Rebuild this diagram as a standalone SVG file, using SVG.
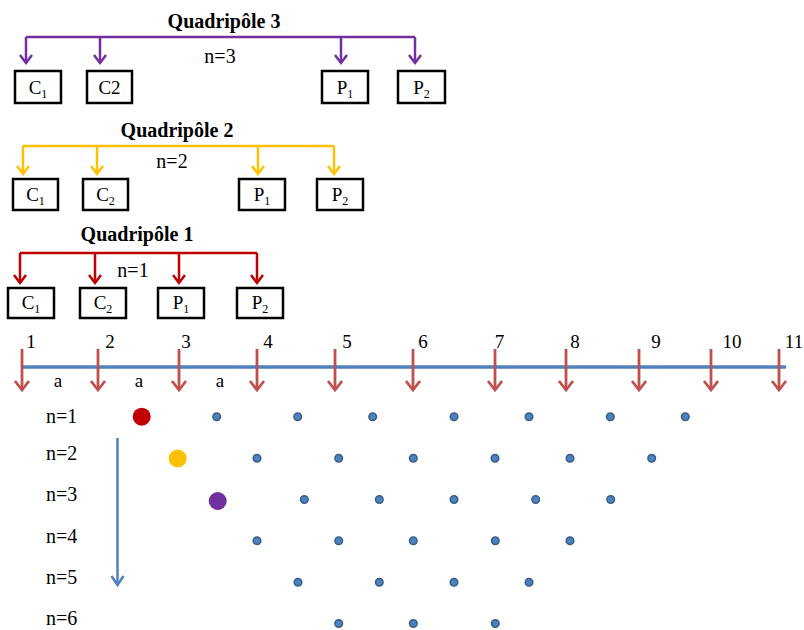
<svg xmlns="http://www.w3.org/2000/svg" width="804" height="630" viewBox="0 0 804 630">
<style>
text{font-family:"Liberation Serif","Times New Roman",serif;fill:#000}
.title{font-size:20px;font-weight:bold;text-anchor:middle}
.lbl{font-size:20px;text-anchor:middle}
.num{font-size:19px;text-anchor:middle}
.row{font-size:20px}
.box rect{fill:#fff;stroke:#000;stroke-width:2.5}
.box text{font-size:19px;text-anchor:middle}
.sub{font-size:12px}
.pl{stroke:#7030a0;stroke-width:2.5;fill:none}
.ye{stroke:#ffc000;stroke-width:2.5;fill:none}
.rd{stroke:#c00000;stroke-width:2.5;fill:none}
.ax{stroke:#c0504d;stroke-width:2.8;fill:none}
.bl{stroke:#4f81bd;fill:none}
.dot{fill:#4f81bd;stroke:#385d8a;stroke-width:1.5}
</style>
<defs>
<marker id="mP" markerUnits="userSpaceOnUse" viewBox="-10 -10 20 20" markerWidth="20" markerHeight="20" refX="0" refY="0" orient="auto" overflow="visible"><path d="M-8,-6 L0,0 L-8,6" stroke="#7030a0" stroke-width="2.5" fill="none"/></marker>
<marker id="mY" markerUnits="userSpaceOnUse" viewBox="-10 -10 20 20" markerWidth="20" markerHeight="20" refX="0" refY="0" orient="auto" overflow="visible"><path d="M-8,-6 L0,0 L-8,6" stroke="#ffc000" stroke-width="2.5" fill="none"/></marker>
<marker id="mR" markerUnits="userSpaceOnUse" viewBox="-10 -10 20 20" markerWidth="20" markerHeight="20" refX="0" refY="0" orient="auto" overflow="visible"><path d="M-8,-6 L0,0 L-8,6" stroke="#c00000" stroke-width="2.5" fill="none"/></marker>
<marker id="mA" markerUnits="userSpaceOnUse" viewBox="-10 -10 20 20" markerWidth="20" markerHeight="20" refX="0" refY="0" orient="auto" overflow="visible"><path d="M-9,-7 L0,0 L-9,7" stroke="#c0504d" stroke-width="2.8" fill="none"/></marker>
<marker id="mB" markerUnits="userSpaceOnUse" viewBox="-10 -10 20 20" markerWidth="20" markerHeight="20" refX="0" refY="0" orient="auto" overflow="visible"><path d="M-9,-6 L0,0 L-9,6" stroke="#4f81bd" stroke-width="2.5" fill="none"/></marker>
</defs>

<!-- titles and labels -->
<text class="title" x="224" y="28">Quadripôle 3</text>
<text class="lbl" x="220" y="63">n=3</text>
<text class="title" x="177" y="137">Quadripôle 2</text>
<text class="lbl" x="172" y="168">n=2</text>
<text class="title" x="137" y="241">Quadripôle 1</text>
<text class="lbl" x="133" y="277">n=1</text>

<g id="connectors">
  <path class="pl" d="M26,37 H415"/>
  <path class="pl" d="M26,37 V63" marker-end="url(#mP)"/>
  <path class="pl" d="M100,37 V63" marker-end="url(#mP)"/>
  <path class="pl" d="M341,37 V63" marker-end="url(#mP)"/>
  <path class="pl" d="M415,37 V63" marker-end="url(#mP)"/>

  <path class="ye" d="M23,146 H334"/>
  <path class="ye" d="M23,146 V174" marker-end="url(#mY)"/>
  <path class="ye" d="M97,146 V174" marker-end="url(#mY)"/>
  <path class="ye" d="M258,146 V174" marker-end="url(#mY)"/>
  <path class="ye" d="M334,146 V174" marker-end="url(#mY)"/>

  <path class="rd" d="M20,253 H257"/>
  <path class="rd" d="M20,253 V283" marker-end="url(#mR)"/>
  <path class="rd" d="M95,253 V283" marker-end="url(#mR)"/>
  <path class="rd" d="M179,253 V283" marker-end="url(#mR)"/>
  <path class="rd" d="M257,253 V283" marker-end="url(#mR)"/>

  <path class="bl" stroke-width="3.5" d="M22,367 H786"/>
  <path class="ax" d="M22,349 V390" marker-end="url(#mA)"/>
  <path class="ax" d="M98,349 V390" marker-end="url(#mA)"/>
  <path class="ax" d="M179,349 V390" marker-end="url(#mA)"/>
  <path class="ax" d="M257,349 V390" marker-end="url(#mA)"/>
  <path class="ax" d="M335,349 V390" marker-end="url(#mA)"/>
  <path class="ax" d="M413,349 V390" marker-end="url(#mA)"/>
  <path class="ax" d="M495,349 V390" marker-end="url(#mA)"/>
  <path class="ax" d="M566,349 V390" marker-end="url(#mA)"/>
  <path class="ax" d="M639,349 V390" marker-end="url(#mA)"/>
  <path class="ax" d="M711,349 V390" marker-end="url(#mA)"/>
  <path class="ax" d="M779,349 V390" marker-end="url(#mA)"/>

  <path class="bl" stroke-width="2.5" d="M117.5,438 V585" marker-end="url(#mB)"/>
</g>

<!-- Quadripole 3 boxes -->
<g id="q3-c1" class="box"><rect x="15" y="71" width="46" height="32"/><text x="38" y="94">C<tspan class="sub" dy="4">1</tspan></text></g>
<g id="q3-c2" class="box"><rect x="87" y="71" width="45" height="32"/><text x="109.5" y="94">C2</text></g>
<g id="q3-p1" class="box"><rect x="322" y="71" width="46" height="32"/><text x="345" y="94">P<tspan class="sub" dy="4">1</tspan></text></g>
<g id="q3-p2" class="box"><rect x="398" y="71" width="47" height="32"/><text x="421.5" y="94">P<tspan class="sub" dy="4">2</tspan></text></g>

<!-- Quadripole 2 boxes -->
<g id="q2-c1" class="box"><rect x="13" y="179" width="45" height="31"/><text x="35.5" y="201">C<tspan class="sub" dy="4">1</tspan></text></g>
<g id="q2-c2" class="box"><rect x="83" y="179" width="45" height="31"/><text x="105.5" y="201">C<tspan class="sub" dy="4">2</tspan></text></g>
<g id="q2-p1" class="box"><rect x="239" y="179" width="46" height="31"/><text x="262" y="201">P<tspan class="sub" dy="4">1</tspan></text></g>
<g id="q2-p2" class="box"><rect x="317" y="179" width="46" height="31"/><text x="340" y="201">P<tspan class="sub" dy="4">2</tspan></text></g>

<!-- Quadripole 1 boxes -->
<g id="q1-c1" class="box"><rect x="8" y="288" width="46" height="30"/><text x="31" y="309">C<tspan class="sub" dy="4">1</tspan></text></g>
<g id="q1-c2" class="box"><rect x="80" y="288" width="46" height="30"/><text x="103" y="309">C<tspan class="sub" dy="4">2</tspan></text></g>
<g id="q1-p1" class="box"><rect x="158" y="288" width="46" height="30"/><text x="181" y="309">P<tspan class="sub" dy="4">1</tspan></text></g>
<g id="q1-p2" class="box"><rect x="237" y="288" width="46" height="30"/><text x="260" y="309">P<tspan class="sub" dy="4">2</tspan></text></g>

<!-- axis numbers -->
<g id="axis-labels">
<text class="num" x="31" y="348">1</text>
<text class="num" x="110" y="348">2</text>
<text class="num" x="186" y="348">3</text>
<text class="num" x="268" y="348">4</text>
<text class="num" x="347" y="348">5</text>
<text class="num" x="423" y="348">6</text>
<text class="num" x="499.5" y="348">7</text>
<text class="num" x="575" y="348">8</text>
<text class="num" x="656" y="348">9</text>
<text class="num" x="732" y="348">10</text>
<text class="num" x="794" y="348">11</text>
<text class="num" x="58" y="387">a</text>
<text class="num" x="139" y="387">a</text>
<text class="num" x="220" y="387">a</text>
</g>

<!-- row labels -->
<g id="row-labels">
<text class="row" x="46" y="423">n=1</text>
<text class="row" x="46" y="460">n=2</text>
<text class="row" x="46" y="501">n=3</text>
<text class="row" x="46" y="543">n=4</text>
<text class="row" x="46" y="584">n=5</text>
<text class="row" x="46" y="625">n=6</text>
</g>

<!-- dots -->
<g id="dots">
<circle cx="141.7" cy="416.7" r="9" fill="#c00000"/>
<circle cx="177.7" cy="458.5" r="9" fill="#ffc000"/>
<circle cx="217.7" cy="501" r="9" fill="#7030a0"/>

<circle class="dot" cx="216.7" cy="416.7" r="3.8"/>
<circle class="dot" cx="297.7" cy="416.7" r="3.8"/>
<circle class="dot" cx="372.7" cy="416.7" r="3.8"/>
<circle class="dot" cx="454" cy="416.7" r="3.8"/>
<circle class="dot" cx="529" cy="416.7" r="3.8"/>
<circle class="dot" cx="610.3" cy="416.7" r="3.8"/>
<circle class="dot" cx="685.3" cy="416.7" r="3.8"/>

<circle class="dot" cx="257" cy="458.3" r="3.8"/>
<circle class="dot" cx="338.7" cy="458.3" r="3.8"/>
<circle class="dot" cx="413.3" cy="458.3" r="3.8"/>
<circle class="dot" cx="495" cy="458.3" r="3.8"/>
<circle class="dot" cx="570" cy="458.3" r="3.8"/>
<circle class="dot" cx="651.7" cy="458.3" r="3.8"/>

<circle class="dot" cx="304.3" cy="499.5" r="3.8"/>
<circle class="dot" cx="379.3" cy="499.5" r="3.8"/>
<circle class="dot" cx="454" cy="499.5" r="3.8"/>
<circle class="dot" cx="535.7" cy="499.5" r="3.8"/>
<circle class="dot" cx="610.7" cy="499.5" r="3.8"/>

<circle class="dot" cx="257" cy="540.7" r="3.8"/>
<circle class="dot" cx="338.7" cy="540.7" r="3.8"/>
<circle class="dot" cx="413.3" cy="540.7" r="3.8"/>
<circle class="dot" cx="495.3" cy="540.7" r="3.8"/>
<circle class="dot" cx="570" cy="540.7" r="3.8"/>

<circle class="dot" cx="298" cy="582.2" r="3.8"/>
<circle class="dot" cx="379.3" cy="582.2" r="3.8"/>
<circle class="dot" cx="454" cy="582.2" r="3.8"/>
<circle class="dot" cx="529" cy="582.2" r="3.8"/>

<circle class="dot" cx="338.7" cy="623.5" r="3.8"/>
<circle class="dot" cx="413.3" cy="623.5" r="3.8"/>
<circle class="dot" cx="495.3" cy="623.5" r="3.8"/>
</g>
</svg>
